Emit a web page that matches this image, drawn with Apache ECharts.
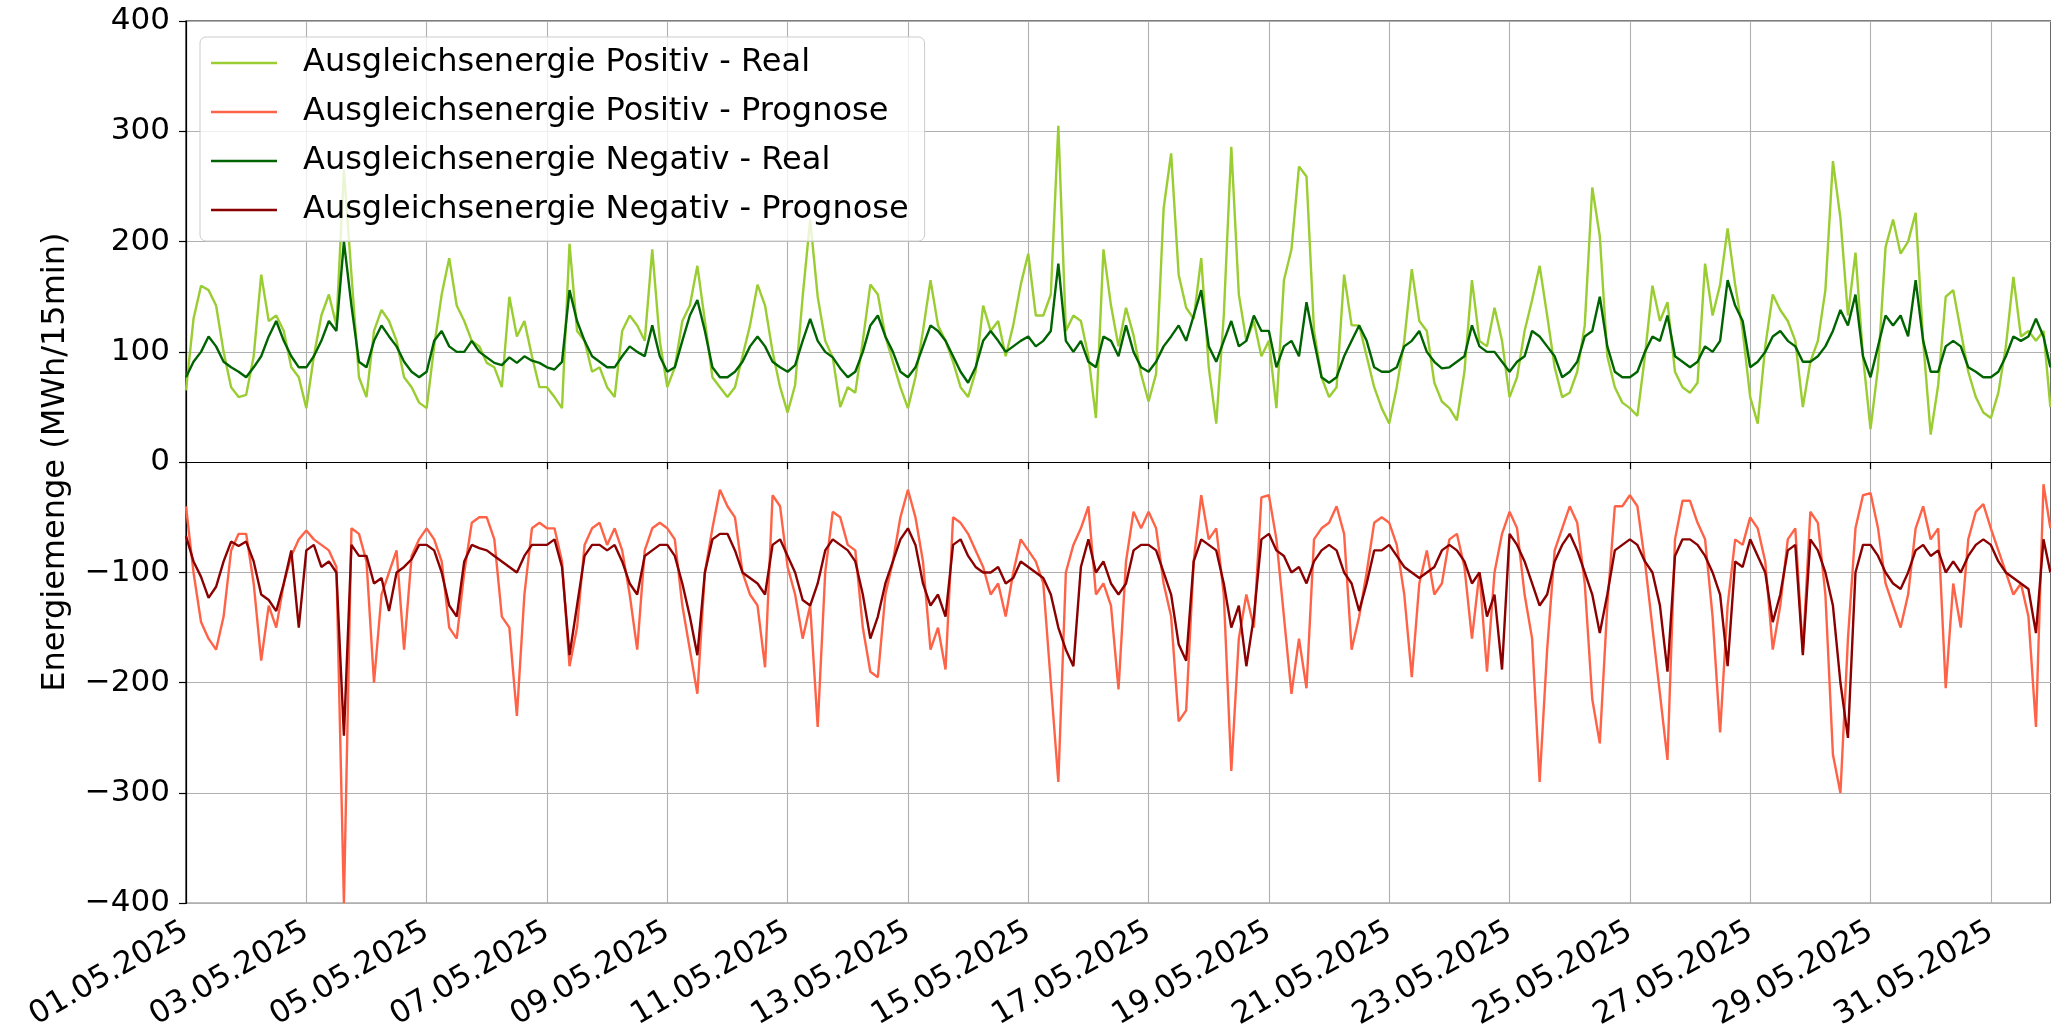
<!DOCTYPE html>
<html>
<head>
<meta charset="utf-8">
<title>Ausgleichsenergie Mai 2025</title>
<script src="https://cdn.jsdelivr.net/npm/echarts@6/dist/echarts.min.js"></script>
<style>
  html, body { margin: 0; padding: 0; background: #fff; }
  #chart { width: 2051px; height: 1033px; }
</style>
</head>
<body>
<div id="chart"></div>
<script>
// Werte alle 3 Stunden ab 01.05.2025 00:00, letzter Wert 31.05.2025 23:45
var seriesNames = [
    "Ausgleichsenergie Positiv - Real",
    "Ausgleichsenergie Positiv - Prognose",
    "Ausgleichsenergie Negativ - Real",
    "Ausgleichsenergie Negativ - Prognose"
];
var seriesColors = ["#9acd32", "#ff6347", "#006400", "#8b0000"];

var posReal = [
    65, 130, 160, 156, 142, 100, 68, 59,
    61, 96, 170, 128, 133, 119, 86, 77,
    49, 96, 133, 152, 124, 265, 170, 77,
    59, 119, 138, 128, 110, 77, 68, 54,
    49, 105, 152, 185, 142, 128, 110, 105,
    90, 86, 68, 150, 114, 128, 96, 68,
    68, 59, 49, 198, 119, 110, 82, 86,
    68, 59, 119, 133, 124, 110, 193, 110,
    68, 86, 128, 142, 178, 128, 77, 68,
    59, 68, 96, 124, 161, 142, 100, 68,
    45, 70, 150, 220, 150, 110, 95, 50,
    68, 63, 110, 161, 152, 114, 91, 68,
    49, 77, 119, 165, 124, 110, 91, 68,
    59, 82, 142, 119, 128, 96, 124, 161,
    189, 133, 133, 152, 305, 119, 133, 128,
    96, 40, 193, 142, 105, 140, 115, 80,
    55, 80, 230, 280, 170, 140, 130, 185,
    86, 35, 133, 286, 152, 110, 128, 96,
    110, 49, 165, 193, 268, 259, 119, 77,
    59, 68, 170, 124, 124, 96, 68, 49,
    35, 68, 110, 175, 128, 119, 72, 55,
    49, 38, 82, 165, 110, 105, 140, 110,
    59, 77, 119, 147, 178, 133, 86, 59,
    63, 82, 124, 249, 205, 96, 68, 54,
    49, 42, 96, 160, 128, 145, 82, 68,
    63, 72, 180, 133, 161, 212, 161, 119,
    59, 35, 105, 152, 138, 128, 110, 50,
    91, 110, 156, 273, 221, 133, 190, 96,
    30, 86, 195, 220, 189, 200, 226, 110,
    25, 70, 150, 156, 119, 82, 59, 45,
    40, 63, 105, 168, 114, 119, 110, 119,
    50
];

var posProg = [
    -40, -100, -145, -160, -170, -140, -80, -65,
    -65, -110, -180, -130, -150, -110, -85, -70,
    -62, -70, -75, -80, -95, -400, -60, -65,
    -90, -200, -120, -100, -80, -170, -85, -70,
    -60, -70, -90, -150, -160, -100, -55, -50,
    -50, -70, -140, -150, -230, -120, -60, -55,
    -60, -60, -90, -185, -150, -75, -60, -55,
    -75, -60, -80, -120, -170, -80, -60, -55,
    -60, -70, -130, -170, -210, -100, -60, -25,
    -40, -50, -100, -120, -130, -186, -30, -40,
    -95, -120, -160, -130, -240, -100, -45, -50,
    -75, -80, -150, -190, -195, -120, -90, -50,
    -25, -50, -90, -170, -150, -188, -50, -55,
    -65, -80, -95, -120, -110, -140, -100, -70,
    -80, -90, -110, -200, -290, -100, -75, -60,
    -40, -120, -110, -130, -206, -90, -45, -60,
    -45, -60, -110, -140, -235, -225, -90, -30,
    -70, -60, -120, -280, -160, -120, -150, -32,
    -30, -70, -140, -210, -160, -205, -70, -60,
    -55, -40, -65, -170, -140, -100, -55, -50,
    -55, -75, -120, -195, -110, -80, -120, -110,
    -70, -65, -95, -160, -100, -190, -100, -65,
    -45, -60, -120, -160, -290, -170, -80, -60,
    -40, -55, -110, -215, -255, -130, -40, -40,
    -30, -40, -90, -150, -210, -270, -70, -35,
    -35, -55, -70, -140, -245, -130, -70, -75,
    -50, -60, -90, -170, -130, -70, -60, -172,
    -45, -55, -120, -265, -300, -160, -60, -30,
    -28, -60, -110, -130, -150, -120, -60, -40,
    -70, -60, -205, -110, -150, -70, -45, -38,
    -60, -80, -100, -120, -110, -140, -240, -20,
    -60
];

var negReal = [
    77, 91, 100, 114, 105, 91, 86, 82,
    77, 86, 96, 114, 128, 110, 96, 86,
    86, 96, 110, 128, 119, 200, 142, 91,
    86, 110, 124, 114, 105, 91, 82, 77,
    82, 110, 119, 105, 100, 100, 110, 100,
    95, 90, 88, 95, 90, 96, 92, 90,
    86, 84, 91, 156, 128, 110, 96, 91,
    86, 86, 96, 105, 100, 96, 124, 96,
    82, 86, 110, 133, 147, 119, 86, 77,
    77, 82, 91, 105, 114, 105, 91, 86,
    82, 88, 110, 130, 110, 100, 95, 85,
    77, 82, 100, 124, 133, 114, 100, 82,
    77, 86, 105, 124, 119, 110, 96, 82,
    72, 86, 110, 119, 110, 100, 105, 110,
    114, 105, 110, 119, 180, 110, 100, 110,
    91, 86, 114, 110, 96, 124, 100, 86,
    82, 91, 105, 114, 124, 110, 133, 156,
    105, 91, 110, 128, 105, 110, 133, 119,
    119, 86, 105, 110, 96, 145, 110, 77,
    72, 77, 96, 110, 124, 110, 86, 82,
    82, 86, 105, 110, 119, 100, 91, 85,
    86, 91, 96, 124, 105, 100, 100, 91,
    82, 91, 96, 119, 114, 105, 96, 77,
    82, 91, 114, 119, 150, 105, 82, 77,
    77, 82, 100, 114, 110, 133, 96, 91,
    86, 91, 105, 100, 110, 165, 142, 128,
    86, 91, 100, 114, 119, 110, 105, 91,
    91, 96, 105, 119, 138, 124, 152, 96,
    77, 105, 133, 124, 133, 114, 165, 110,
    82, 82, 105, 110, 105, 86, 82, 77,
    77, 82, 96, 114, 110, 114, 130, 114,
    86
];

var negProg = [
    -67, -90, -104, -123, -113, -90, -72, -76,
    -72, -90, -120, -125, -135, -110, -80, -150,
    -80, -75, -95, -90, -100, -248, -75, -85,
    -85, -110, -105, -135, -100, -95, -88, -75,
    -75, -80, -100, -130, -140, -90, -75, -78,
    -80, -85, -90, -95, -100, -85, -75, -75,
    -75, -70, -95, -175, -130, -85, -75, -75,
    -80, -75, -90, -110, -120, -85, -80, -75,
    -75, -85, -110, -140, -175, -100, -70, -65,
    -65, -80, -100, -105, -110, -120, -75, -70,
    -85, -100, -125, -130, -110, -80, -70, -75,
    -80, -90, -120, -160, -140, -110, -90, -70,
    -60, -75, -110, -130, -120, -140, -75, -70,
    -85, -95, -100, -100, -95, -110, -105, -90,
    -95, -100, -105, -120, -150, -170, -185, -95,
    -70, -100, -90, -110, -120, -110, -80, -75,
    -75, -80, -100, -120, -165, -180, -90, -70,
    -75, -80, -110, -150, -130, -185, -140, -70,
    -65, -80, -85, -100, -95, -110, -90, -80,
    -75, -80, -100, -110, -135, -110, -80, -80,
    -75, -85, -95, -100, -105, -100, -95, -80,
    -75, -80, -90, -110, -100, -140, -120, -188,
    -65, -75, -90, -110, -130, -120, -90, -75,
    -65, -80, -100, -120, -155, -120, -80, -75,
    -70, -75, -90, -100, -130, -190, -85, -70,
    -70, -75, -85, -100, -120, -185, -90, -95,
    -70, -85, -100, -145, -120, -80, -75, -175,
    -70, -80, -100, -130, -200, -250, -100, -75,
    -75, -85, -100, -110, -115, -100, -80, -75,
    -85, -80, -100, -90, -100, -85, -75, -70,
    -75, -90, -100, -105, -110, -115, -155, -70,
    -100
];

var yTicks = [-400, -300, -200, -100, 0, 100, 200, 300, 400];
var startDay = new Date(2025, 4, 1);

// Zeit in Tagen seit 01.05.2025 00:00 (Schritt 3h, letzter Punkt 23:45)
function dayOf(i) {
    return Math.min(i * 0.125, 31 - 1 / 96);
}

function pairs(values) {
    var out = [];
    for (var i = 0; i < values.length; i++) {
        out.push([dayOf(i), values[i]]);
    }
    return out;
}

function dateLabel(v) {
    if (v % 2 !== 0) return "";
    var d = new Date(startDay.getTime() + v * 86400000);
    var dd = ("0" + d.getDate()).slice(-2);
    var mm = ("0" + (d.getMonth() + 1)).slice(-2);
    return dd + "." + mm + "." + d.getFullYear();
}

var font = "DejaVu Sans";
var allData = [posReal, posProg, negReal, negProg];

var myChart = echarts.init(document.getElementById("chart"));

var series = [];
for (var s = 0; s < seriesNames.length; s++) {
    series.push({
        name: seriesNames[s],
        type: "line",
        data: pairs(allData[s]),
        showSymbol: false,
        color: seriesColors[s],
        lineStyle: { width: 2.4, color: seriesColors[s] },
        animation: false
    });
}

var option = {
    backgroundColor: "#ffffff",
    animation: false,
    grid: {
        left: 186,
        right: -2,
        top: 21,
        bottom: 125,
        show: true,
        borderColor: "#000",
        borderWidth: 1.2,
        backgroundColor: "transparent"
    },
    legend: {
        orient: "vertical",
        left: 200,
        top: 37,
        padding: [9, 16, 14, 11],
        icon: "rect",
        itemWidth: 66,
        itemHeight: 2.5,
        itemGap: 15,
        backgroundColor: "rgba(255,255,255,0.8)",
        borderColor: "#cccccc",
        borderWidth: 1,
        borderRadius: 6,
        textStyle: {
            fontFamily: font,
            fontSize: 32,
            color: "#000",
            lineHeight: 34,
            padding: [0, 0, 0, 21]
        },
        data: seriesNames
    },
    xAxis: {
        type: "value",
        min: 0,
        max: 31,
        interval: 2,
        axisLine: { show: true, lineStyle: { color: "#000", width: 1.2 } },
        axisTick: { show: true, length: 7, lineStyle: { color: "#000", width: 1.2 } },
        axisLabel: {
            rotate: 30,
            margin: 26,
            fontFamily: font,
            fontSize: 31,
            color: "#000",
            showMaxLabel: false,
            formatter: dateLabel
        },
        splitLine: { show: true, lineStyle: { color: "#b0b0b0", width: 1.1 } }
    },
    yAxis: {
        type: "value",
        min: yTicks[0],
        max: yTicks[yTicks.length - 1],
        interval: 100,
        name: "Energiemenge (MWh/15min)",
        nameLocation: "middle",
        nameRotate: 90,
        nameGap: 114,
        nameTextStyle: { fontFamily: font, fontSize: 32, color: "#000" },
        axisLine: { show: true, lineStyle: { color: "#000", width: 1.2 } },
        axisTick: { show: true, length: 7, lineStyle: { color: "#000", width: 1.2 } },
        axisLabel: {
            margin: 16,
            fontFamily: font,
            fontSize: 31,
            color: "#000",
            formatter: function (v) {
                return v < 0 ? "\u2212" + (-v) : String(v);
            }
        },
        splitLine: { show: true, lineStyle: { color: "#b0b0b0", width: 1.1 } }
    },
    series: series
};

myChart.setOption(option);

window.addEventListener("resize", function () {
    myChart.resize();
});
</script>
</body>
</html>
